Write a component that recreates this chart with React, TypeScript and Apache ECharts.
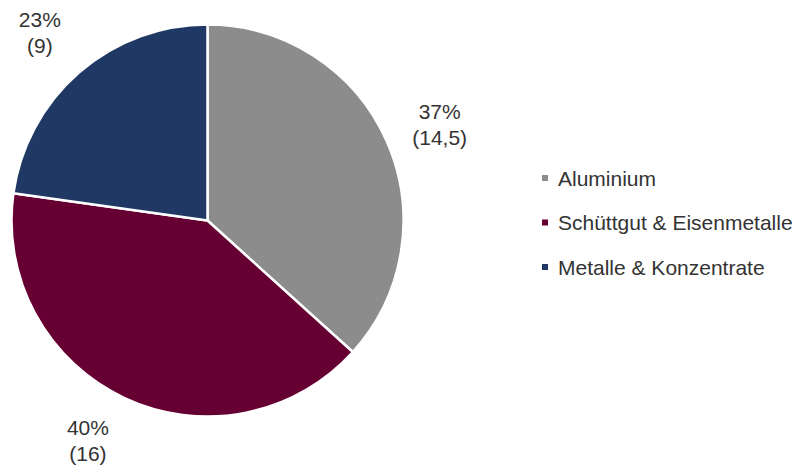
import React, { useEffect, useRef } from "react";
import * as echarts from "echarts";

const categories = ["Aluminium", "Schüttgut & Eisenmetalle", "Metalle & Konzentrate"];
const values = [14.5, 16, 9];
const colors = ["#8c8c8c", "#660033", "#1f3864"];

// small nudges of the outside labels (styling only)
const labelNudges = [
  [0, 7],
  [-12, -10],
  [-1, 4],
];

export default function App() {
  const ref = useRef<HTMLDivElement>(null);
  useEffect(() => {
    const chart = echarts.init(ref.current!, undefined, { renderer: "svg" });
    const font = "Liberation Sans";
    const data = categories.map((name, i) => ({
      name,
      value: values[i],
      itemStyle: { color: colors[i] },
    }));
    chart.setOption({
      animation: false,
      legend: {
        orient: "vertical",
        left: 540,
        top: 167,
        padding: 0,
        itemWidth: 8,
        itemHeight: 8,
        itemGap: 22.5,
        icon: "rect",
        data: categories,
        textStyle: {
          fontFamily: font,
          fontSize: 21,
          lineHeight: 22,
          color: "#333",
          padding: [0, 0, 0, 4],
        },
      },
      series: [
        {
          type: "pie",
          center: [207.5, 220.5],
          radius: [0, 196],
          startAngle: 90,
          clockwise: true,
          percentPrecision: 0,
          data,
          itemStyle: { borderColor: "#fff", borderWidth: 2.5 },
          label: { show: false },
          labelLine: { show: false },
          silent: true,
        },
        {
          type: "pie",
          center: [207.5, 220.5],
          radius: [240, 262],
          startAngle: 90,
          clockwise: true,
          percentPrecision: 0,
          silent: true,
          data: categories.map((name, i) => ({
            name,
            value: values[i],
            label: { offset: labelNudges[i] },
          })),
          itemStyle: { color: "rgba(0,0,0,0)" },
          label: {
            show: true,
            position: "inside",
            fontFamily: font,
            fontSize: 21,
            lineHeight: 26,
            color: "#333",
            formatter: (p: any) => `${p.percent}%\n(${String(p.value).replace(".", ",")})`,
          },
          labelLine: { show: false },
        },
      ],
    });
    return () => chart.dispose();
  }, []);
  return (
    <div
      ref={ref}
      style={{ position: "fixed", left: 0, top: 0, width: 805, height: 472, background: "#fff" }}
    />
  );
}
